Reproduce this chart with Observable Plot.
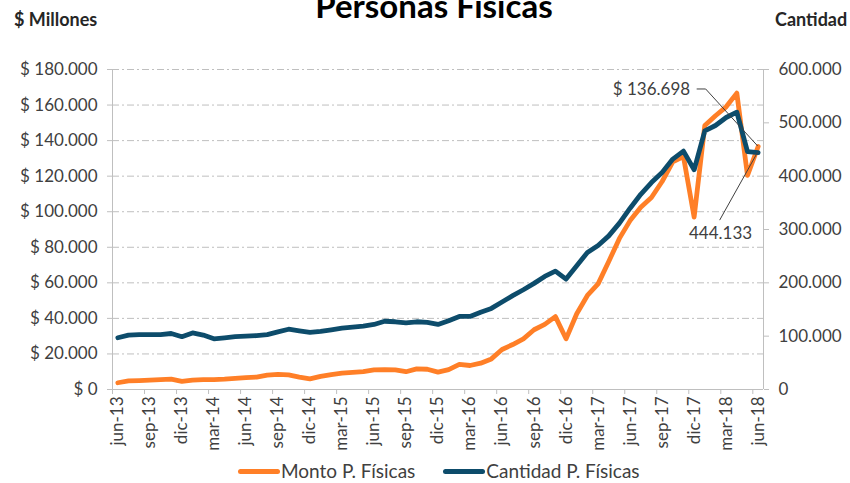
<!DOCTYPE html>
<html><head><meta charset="utf-8">
<script src="https://cdn.jsdelivr.net/npm/d3@7"></script>
<script src="https://cdn.jsdelivr.net/npm/@observablehq/plot@0.6"></script>
<style>
body{margin:0;background:#fff;}
#wrap{position:relative;width:850px;height:483px;overflow:hidden;font-family:Lato,"Open Sans",sans-serif;color:#404040;}
.t{position:absolute;white-space:nowrap;}
#chart{position:absolute;left:0;top:0;}
.sw{display:inline-block;width:42px;height:5px;border-radius:3px;}
</style></head><body>
<div id="wrap">
  <div class="t" style="left:0;width:868px;text-align:center;top:-11px;font-size:33px;line-height:32px;font-weight:bold;color:#000;">Personas Físicas</div>
  <div class="t" style="left:14px;top:8px;font-size:18px;font-weight:bold;color:#262626;">$ Millones</div>
  <div class="t" style="left:775px;top:8px;font-size:18px;font-weight:bold;color:#262626;">Cantidad</div>
  <div id="chart"></div>
  <div class="t" id="legend" style="top:459px;left:238px;font-size:19px;line-height:24px;display:flex;align-items:center;">
    <span class="sw" style="background:#FF7F27"></span><span style="margin-left:1px">Monto P. Físicas</span>
    <span class="sw" style="background:#0D4C6B;margin-left:28px"></span><span style="margin-left:1px">Cantidad P. Físicas</span>
  </div>
</div>
<script>
const months = ["jun-13","jul-13","ago-13","sep-13","oct-13","nov-13","dic-13","ene-14","feb-14","mar-14","abr-14","may-14","jun-14","jul-14","ago-14","sep-14","oct-14","nov-14","dic-14","ene-15","feb-15","mar-15","abr-15","may-15","jun-15","jul-15","ago-15","sep-15","oct-15","nov-15","dic-15","ene-16","feb-16","mar-16","abr-16","may-16","jun-16","jul-16","ago-16","sep-16","oct-16","nov-16","dic-16","ene-17","feb-17","mar-17","abr-17","may-17","jun-17","jul-17","ago-17","sep-17","oct-17","nov-17","dic-17","ene-18","feb-18","mar-18","abr-18","may-18","jun-18"];
// Monto P. Físicas ($ millones)
const monto = [3800,4800,5000,5300,5600,5800,4600,5300,5500,5600,5800,6300,6700,7000,8100,8500,8200,7000,6000,7400,8400,9200,9600,10000,11000,11100,11000,10000,11600,11400,9800,11200,14100,13500,14800,17200,22500,25300,28500,33600,36600,41000,28500,42600,52900,59400,72000,85000,95000,102500,108000,117000,128000,131000,97000,148500,154000,159000,166700,120400,136698];
// Cantidad P. Físicas
const cantidad = [97000,102000,103000,103000,103000,105000,99000,106000,102000,95000,97000,99000,100000,101000,103000,108000,113000,110000,107000,109000,112000,115000,117000,119000,122000,128000,127000,125000,127000,126000,122000,129000,137000,137000,145000,152000,164000,176000,187000,199000,212000,222000,207000,232000,257000,270000,288000,312000,340000,366000,388000,407000,432000,447000,412000,485000,495000,510000,520000,446000,444133];
const tickLabels = ["jun-13","sep-13","dic-13","mar-14","jun-14","sep-14","dic-14","mar-15","jun-15","sep-15","dic-15","mar-16","jun-16","sep-16","dic-16","mar-17","jun-17","sep-17","dic-17","mar-18","jun-18"];
const leftTicks = [0,20000,40000,60000,80000,100000,120000,140000,160000,180000];
const rightTicks = [0,100000,200000,300000,400000,500000,600000];

const ORANGE = "#FF7F27", BLUE = "#0D4C6B", GRAY = "#BFBFBF", TXT = "#404040";
const K = leftTicks[leftTicks.length-1] / rightTicks[rightTicks.length-1];
const loc = d3.formatLocale({decimal: ",", thousands: ".", grouping: [3], currency: ["$ ", ""]});
const fmt = loc.format(",d");
const rows = months.map((m, i) => ({i, m, monto: monto[i], cantidad: cantidad[i]}));
const last = rows[rows.length - 1];
const labelIdx = tickLabels.map(l => months.indexOf(l));
const tickPos = labelIdx.map(i => i - 0.5);

const chart = Plot.plot({
  width: 850, height: 460,
  marginLeft: 112, marginRight: 87, marginTop: 69, marginBottom: 71,
  style: {fontFamily: "Lato, 'Open Sans', sans-serif", fontSize: "17px", color: TXT, background: "transparent", overflow: "visible"},
  x: {type: "linear", domain: [-0.5, months.length - 0.5], axis: null, label: null},
  y: {domain: [0, leftTicks[leftTicks.length-1]], axis: null, label: null},
  marks: [
    Plot.gridY(leftTicks.slice(1), {stroke: GRAY, strokeOpacity: 1, strokeDasharray: "7,3,2,3"}),
    Plot.ruleX([-0.5, months.length - 0.5], {stroke: GRAY, strokeWidth: 1}),
    Plot.ruleY([0], {stroke: GRAY, strokeWidth: 1}),
    Plot.axisY(leftTicks, {anchor: "left", label: null, tickSize: 5, tickPadding: 10, stroke: GRAY, fill: TXT,
      tickFormat: v => "$ " + fmt(v)}),
    Plot.axisY(rightTicks.map(v => v * K), {anchor: "right", label: null, tickSize: 5, tickPadding: 10, stroke: GRAY, fill: TXT,
      tickFormat: v => fmt(Math.round(v / K))}),
    Plot.axisX(tickPos, {anchor: "bottom", label: null, tickSize: 5, stroke: GRAY, tickFormat: () => ""}),
    Plot.axisX(labelIdx, {anchor: "bottom", label: null, tickSize: 0, tickPadding: 7, tickRotate: -90, fill: TXT,
      tickFormat: i => months[i]}),
    Plot.lineY(rows, {x: "i", y: "monto", stroke: ORANGE, strokeWidth: 4.8, strokeLinejoin: "round", strokeLinecap: "round"}),
    Plot.lineY(rows, {x: "i", y: d => d.cantidad * K, stroke: BLUE, strokeWidth: 4.8, strokeLinejoin: "round", strokeLinecap: "round"}),
    Plot.text([last], {x: "i", y: "monto", text: d => "$ " + fmt(d.monto), textAnchor: "end", dx: -68, dy: -57, fill: TXT, fontSize: 17}),
    Plot.text([last], {x: "i", y: d => d.cantidad * K, text: d => fmt(d.cantidad), textAnchor: "end", dx: -6, dy: 81, fill: TXT, fontSize: 17})
  ]
});
document.getElementById("chart").appendChild(chart);

// leader lines for the annotations
const sx = chart.scale("x"), sy = chart.scale("y");
const fx = sx.apply ? sx.apply : d3.scaleLinear().domain(sx.domain).range(sx.range);
const fy = sy.apply ? sy.apply : d3.scaleLinear().domain(sy.domain).range(sy.range);
const px = fx(last.i), pyM = fy(last.monto), pyC = fy(last.cantidad * K);
const svg = d3.select(chart);
svg.append("path")
  .attr("d", `M${px - 61},${pyM - 57}H${px - 52}L${px},${pyM}`)
  .attr("fill", "none").attr("stroke", TXT).attr("stroke-width", 1);
svg.append("path")
  .attr("d", `M${px - 38},${pyC + 68}L${px},${pyC}`)
  .attr("fill", "none").attr("stroke", TXT).attr("stroke-width", 1);
</script>
</body></html>
